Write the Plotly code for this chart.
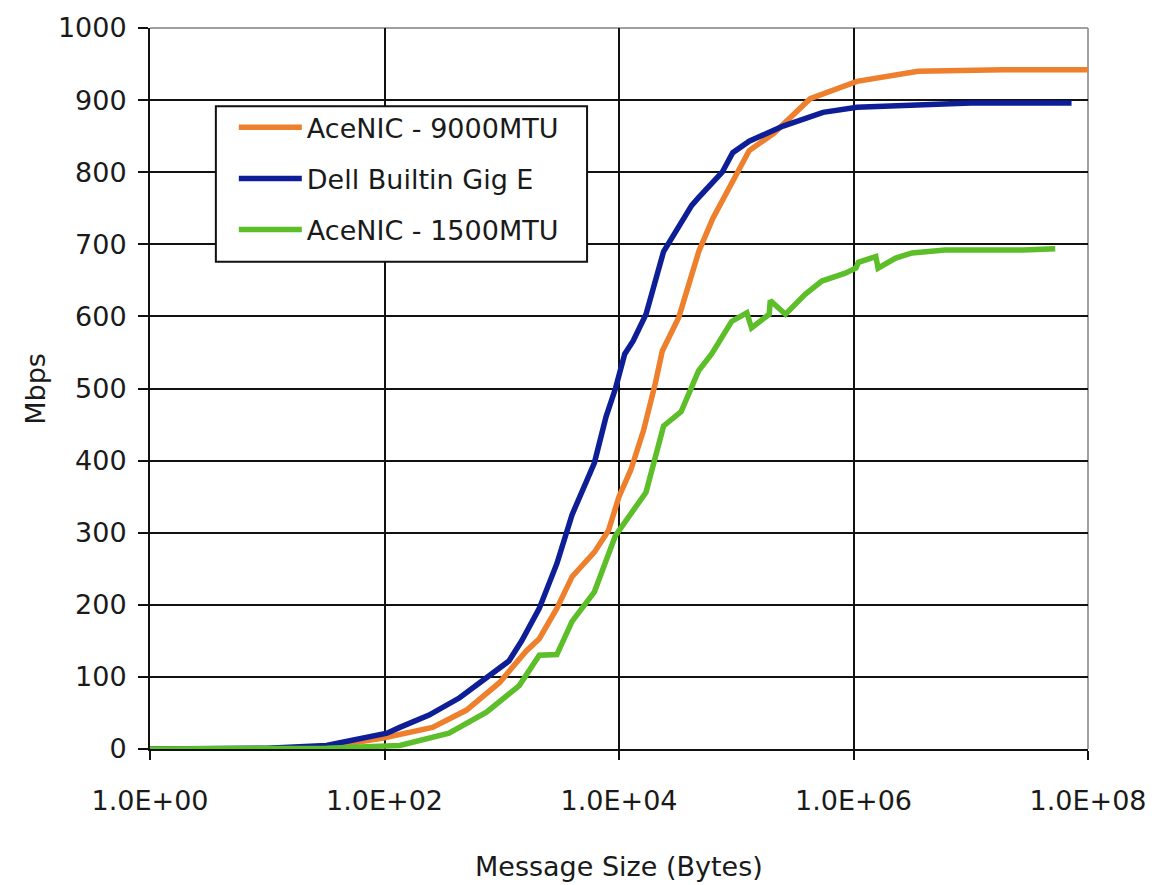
import plotly.graph_objects as go

# Message sizes (bytes) and throughput (Mbps)
dell_size = [1, 3, 10, 32, 74, 105, 135, 240, 437, 776,
             1150, 1480, 2090, 2950, 3980, 6170, 7760, 9330, 11200, 13200,
             17000, 24000, 28200, 41700, 47900, 75900, 93300, 129000, 251000, 550000,
             1070000, 3550000, 10000000, 72400000]
dell_mbps = [0, 0.5, 1, 5, 16, 22, 30, 47, 71, 102,
             122, 150, 195, 257, 325, 397, 461, 500, 548, 566,
             603, 690, 709, 754, 765, 800, 827, 843, 864, 883,
             890, 894, 896, 896]

ace9000_size = [1, 10, 32, 95, 257, 501, 955, 1620, 2090, 2950,
                3980, 6170, 8130, 10000, 12600, 16200, 20400, 23400, 32400, 47900,
                63100, 97700, 129000, 209000, 427000, 1070000, 3550000, 19100000, 107000000]
ace9000_mbps = [0, 0.5, 3, 15, 30, 54, 92, 136, 153, 195,
                239, 273, 303, 350, 387, 442, 507, 552, 599, 690,
                736, 795, 830, 854, 902, 926, 940, 942, 942]

ace1500_size = [1, 32, 135, 355, 741, 1410, 2090, 2950, 3980, 6170,
                9330, 17000, 24000, 33900, 47900, 61700, 91200, 123000, 135000, 191000,
                195000, 263000, 389000, 537000, 851000, 1050000, 1100000, 1550000, 1620000, 2290000,
                3160000, 6030000, 28200000, 52500000]
ace1500_mbps = [0, 1, 5, 22, 51, 88, 130, 131, 177, 218,
                296, 356, 448, 468, 525, 548, 593, 605, 584, 603,
                622, 603, 631, 649, 660, 667, 675, 683, 667, 681,
                688, 692, 692, 694]

x_tickvals = [1, 100, 1e4, 1e6, 1e8]
x_ticktext = ["1.0E+00", "1.0E+02", "1.0E+04", "1.0E+06", "1.0E+08"]
y_tickvals = [0, 100, 200, 300, 400, 500, 600, 700, 800, 900, 1000]

FONT = "DejaVu Sans"
TXT = "#1a1a1a"
FS = 27

# plot area in pixels (for placing the legend frame)
PL, PR, PT, PB = 150, 1090, 21, 749
def px_x(p):
    return (p - PL) / (PR - PL)
def px_y(p):
    return (PB - p) / (PB - PT)

fig = go.Figure()
series = [
    ("AceNIC - 9000MTU", ace9000_size, ace9000_mbps, "#EE7F2D"),
    ("Dell Builtin Gig E", dell_size, dell_mbps, "#0D1E96"),
    ("AceNIC - 1500MTU", ace1500_size, ace1500_mbps, "#5CBE28"),
]
for i, (name, xs, ys, col) in enumerate(series):
    fig.add_trace(go.Scatter(
        x=xs, y=ys, mode="lines", name=name,
        line=dict(color=col, width=5.5),
        legendgroup=name, legendrank=i + 1,
    ))

fig.update_layout(
    width=1158, height=885,
    margin=dict(l=PL, r=1158 - PR, t=PT, b=885 - PB),
    paper_bgcolor="white", plot_bgcolor="white",
    font=dict(family=FONT, size=FS, color=TXT),
    showlegend=True,
    legend=dict(
        x=px_x(234), y=px_y(97),
        xanchor="left", yanchor="top",
        bgcolor="rgba(0,0,0,0)", borderwidth=0,
        font=dict(family=FONT, size=FS, color=TXT),
        itemwidth=63, tracegroupgap=13, traceorder="grouped",
    ),
    xaxis=dict(
        type="log", range=[0, 8],
        tickmode="array", tickvals=x_tickvals, ticktext=x_ticktext,
        showgrid=True, gridcolor="#111", gridwidth=2,
        showline=True, linecolor="#111", linewidth=2,
        ticks="outside", ticklen=9, tickwidth=2, tickcolor="#111",
        ticklabelstandoff=18,
        zeroline=False,
    ),
    yaxis=dict(
        range=[0, 1000],
        tickmode="array", tickvals=y_tickvals,
        showgrid=True, gridcolor="#111", gridwidth=2,
        showline=True, linecolor="#111", linewidth=2,
        ticks="outside", ticklen=10, tickwidth=2, tickcolor="#111",
        ticklabelstandoff=6,
        zeroline=False,
    ),
    annotations=[
        dict(text="Message Size (Bytes)", xref="paper", yref="paper",
             x=0.5, y=px_y(868), xanchor="center", yanchor="middle",
             showarrow=False, font=dict(family=FONT, size=FS, color=TXT)),
        dict(text="Mbps", xref="paper", yref="paper",
             x=px_x(35), y=px_y(385), xanchor="center", yanchor="middle",
             textangle=-90, showarrow=False,
             font=dict(family=FONT, size=FS, color=TXT)),
    ],
    shapes=[
        dict(type="line", xref="paper", yref="paper", x0=0, x1=1, y0=1, y1=1,
             line=dict(color="#A0A0A0", width=2), layer="between"),
        dict(type="line", xref="paper", yref="paper", x0=1, x1=1, y0=0, y1=1,
             line=dict(color="#A0A0A0", width=2), layer="between"),
        # legend frame
        dict(type="rect", xref="paper", yref="paper",
             x0=px_x(216), x1=px_x(588), y0=px_y(257), y1=px_y(100),
             fillcolor="white", line=dict(color="#111", width=2), layer="above"),
    ],
)

fig.write_html("out.html")
